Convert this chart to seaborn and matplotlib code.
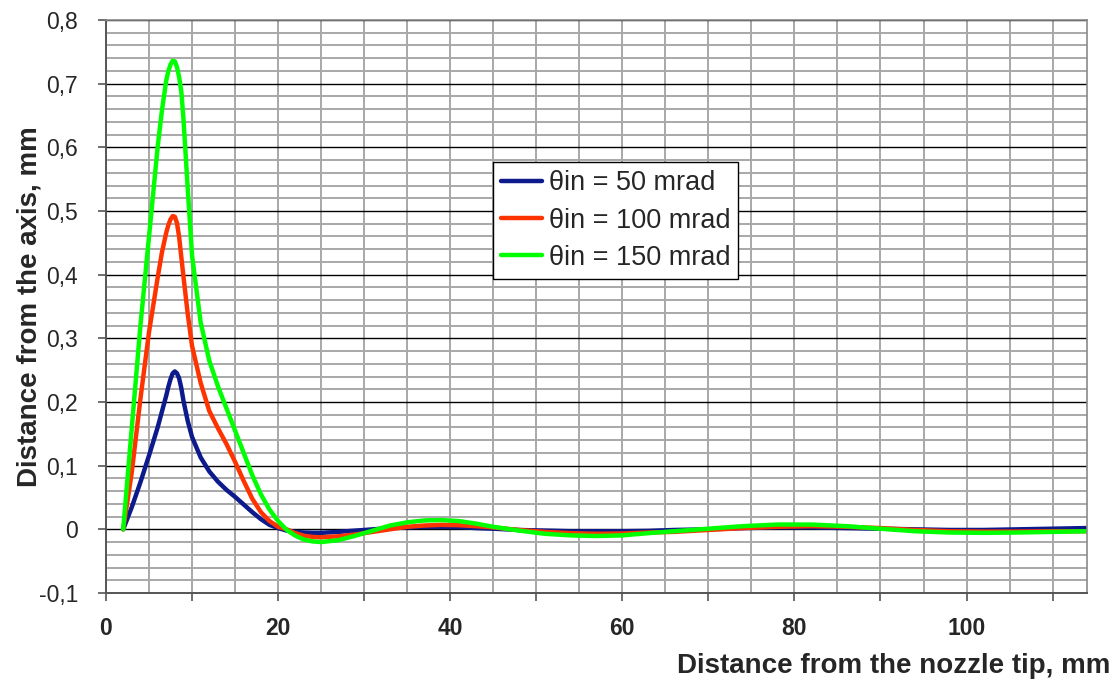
import numpy as np
import pandas as pd
import matplotlib
matplotlib.use("Agg")
import matplotlib.pyplot as plt
from matplotlib.ticker import MultipleLocator, FixedLocator, FuncFormatter
import seaborn as sns

# Distance from the nozzle tip, mm
x_mm = [2, 3, 4, 5, 6, 6.5, 7, 7.25, 7.5, 7.75, 8, 8.25, 8.5, 8.75, 9, 9.5, 10,
        11, 12, 13, 14, 15, 16, 17, 18, 19, 20, 21, 22, 23, 24, 25, 27, 29, 31,
        33, 35, 37, 39, 41, 43, 45, 48, 51, 54, 57, 60, 63, 66, 70, 74, 78, 82,
        86, 90, 94, 98, 102, 106, 110, 114]

# Distance from the axis, mm, for each initial divergence angle
r_50 = [0, 0.035, 0.074, 0.116, 0.160, 0.185, 0.210, 0.224, 0.236, 0.245, 0.248,
        0.245, 0.237, 0.222, 0.202, 0.170, 0.145, 0.113, 0.091, 0.075, 0.062,
        0.051, 0.039, 0.027, 0.016, 0.007, 0.002, -0.002, -0.004, -0.005,
        -0.0055, -0.0055, -0.004, -0.002, 0.0, 0.002, 0.003, 0.004, 0.004,
        0.0035, 0.002, 0.001, -0.001, -0.002, -0.003, -0.003, -0.003, -0.0025,
        -0.001, 0.0, 0.002, 0.003, 0.003, 0.002, 0.001, 0.0, -0.001, -0.001,
        0.0, 0.001, 0.002]

r_100 = [0, 0.090, 0.205, 0.310, 0.395, 0.435, 0.466, 0.478, 0.487, 0.492,
         0.491, 0.481, 0.459, 0.428, 0.397, 0.338, 0.288, 0.230, 0.186, 0.159,
         0.134, 0.106, 0.076, 0.048, 0.027, 0.013, 0.004, 0.0, -0.006, -0.010,
         -0.012, -0.0125, -0.011, -0.008, -0.004, 0.0, 0.004, 0.006, 0.007,
         0.0065, 0.005, 0.003, -0.001, -0.004, -0.006, -0.007, -0.0065, -0.005,
         -0.004, -0.001, 0.002, 0.004, 0.005, 0.004, 0.002, -0.001, -0.003,
         -0.0035, -0.0035, -0.003, -0.003]

r_150 = [0, 0.160, 0.320, 0.460, 0.600, 0.658, 0.705, 0.720, 0.730, 0.736,
         0.735, 0.726, 0.710, 0.688, 0.645, 0.535, 0.430, 0.325, 0.265, 0.225,
         0.190, 0.155, 0.120, 0.085, 0.055, 0.031, 0.013, -0.001, -0.010,
         -0.016, -0.019, -0.020, -0.017, -0.010, -0.002, 0.006, 0.011, 0.014,
         0.0145, 0.013, 0.009, 0.004, -0.002, -0.007, -0.0095, -0.0105, -0.0095,
         -0.006, -0.003, 0.001, 0.005, 0.0075, 0.0075, 0.005, 0.001, -0.003,
         -0.005, -0.0055, -0.005, -0.004, -0.003]

series_labels = ["θin = 50 mrad", "θin = 100 mrad", "θin = 150 mrad"]
series_colors = ["#0c1a8c", "#ff3300", "#00ff00"]

x_ticks = list(range(0, 120, 10))
x_ticklabels = ["0", "", "20", "", "40", "", "60", "", "80", "", "100", ""]

frames = []
for label, values in zip(series_labels, [r_50, r_100, r_150]):
    frames.append(pd.DataFrame({"x": x_mm, "r": values, "series": label}))
df = pd.concat(frames, ignore_index=True)

sns.set_style("white")
plt.rcParams["font.family"] = ["Liberation Sans", "DejaVu Sans"]

fig = plt.figure(figsize=(11.19, 6.83), dpi=100)
ax = fig.add_axes([106 / 1119, 1 - 593 / 683, 981 / 1119, 573 / 683])

sns.lineplot(data=df, x="x", y="r", hue="series", hue_order=series_labels,
             palette=series_colors, linewidth=3.2, sort=False, ax=ax,
             estimator=None)
for line in ax.get_lines():
    line.set_solid_joinstyle("round")
    line.set_solid_capstyle("round")

ax.set_xlim(0, 114)
ax.set_ylim(-0.1, 0.8)

# grid: vertical every 5 mm, horizontal minor every 0.02, major every 0.1
ax.xaxis.set_major_locator(FixedLocator(x_ticks))
ax.xaxis.set_minor_locator(MultipleLocator(5))
ax.yaxis.set_major_locator(MultipleLocator(0.1))
ax.yaxis.set_minor_locator(MultipleLocator(0.02))
ax.set_axisbelow(True)
ax.grid(which="both", axis="x", color="#a8a8a8", linewidth=1.4)
ax.grid(which="minor", axis="y", color="#a8a8a8", linewidth=1.4)
ax.grid(which="major", axis="y", color="black", linewidth=1.0)

ax.set_xticklabels(x_ticklabels, fontsize=16.5, fontweight="bold")
ax.yaxis.set_major_formatter(FuncFormatter(
    lambda v, p: "0" if abs(v) < 1e-9 else f"{v:.1f}".replace(".", ",")))
ax.tick_params(axis="y", labelsize=16.5)

ax.tick_params(which="major", direction="out", length=6, width=1.2,
               color="#555555", bottom=True, left=True)
ax.tick_params(axis="x", which="major", pad=11)
ax.tick_params(axis="y", which="major", pad=14)
ax.tick_params(which="minor", length=0)

for side in ["top", "right"]:
    ax.spines[side].set_color("#8a8a8a")
    ax.spines[side].set_linewidth(1.2)
for side in ["left", "bottom"]:
    ax.spines[side].set_color("#555555")
    ax.spines[side].set_linewidth(1.4)

ax.set_xlabel("Distance from the nozzle tip, mm", fontsize=20, fontweight="bold")
ax.xaxis.set_label_coords(1.0235, -0.128)
ax.xaxis.label.set_horizontalalignment("right")
ax.xaxis.label.set_verticalalignment("center")

ax.set_ylabel("Distance from the axis, mm", fontsize=20, fontweight="bold")
ax.yaxis.set_label_coords(-0.0775, 0.5)
ax.yaxis.label.set_verticalalignment("center")

leg = ax.legend(loc="upper left", bbox_to_anchor=(0.3945, 0.752),
                borderaxespad=0, fontsize=19.5, frameon=True, fancybox=False,
                edgecolor="black", framealpha=1, handlelength=1.5,
                handletextpad=0.25, labelspacing=0.42, borderpad=0.3)
leg.get_frame().set_linewidth(1.0)
for line in leg.get_lines():
    line.set_linewidth(3.2)

fig.savefig("out.png", dpi=100)
